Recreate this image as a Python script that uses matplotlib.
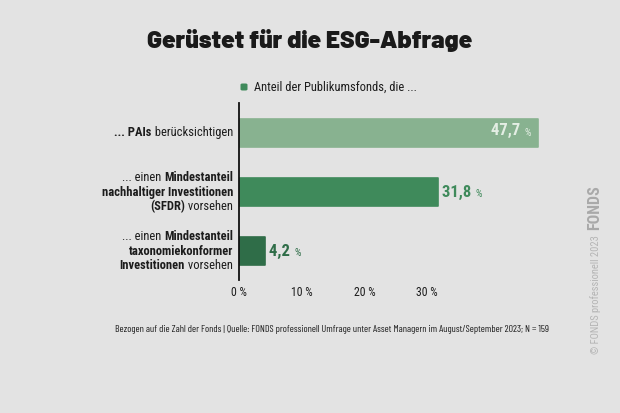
import matplotlib
matplotlib.use("Agg")
import matplotlib.pyplot as plt
from matplotlib import font_manager as fm

# ---------------- data ----------------
categories = [
    [[("... PAIs", True), (" berücksichtigen", False)]],
    [[("... einen ", False), ("Mindestanteil", True)],
     [("nachhaltiger Investitionen", True)],
     [("(SFDR)", True), (" vorsehen", False)]],
    [[("... einen ", False), ("Mindestanteil", True)],
     [("taxonomiekonformer", True)],
     [("Investitionen", True), (" vorsehen", False)]],
]
values = [47.7, 31.8, 4.2]
value_labels = ["47,7", "31,8", "4,2"]
xticks = [0, 10, 20, 30]
xtick_labels = ["0 %", "10 %", "20 %", "30 %"]
title = "Gerüstet für die ESG-Abfrage"
legend_label = "Anteil der Publikumsfonds, die ..."
footer = ("Bezogen auf die Zahl der Fonds | Quelle: FONDS professionell Umfrage unter "
          "Asset Managern im August/September 2023; N = 159")

# ---------------- style ----------------
BG = "#e3e3e3"
bar_colors = ["#88b290", "#3f8a5b", "#2f6d48"]
label_colors = ["#e4eee4", "#3f8a5b", "#2f6d48"]
TXT = "#1c1c1c"

installed = set(f.name for f in fm.fontManager.ttflist)
def pick(cands):
    for c in cands:
        if c in installed:
            return c
    return "DejaVu Sans"

COND = pick(["Roboto Condensed", "Barlow Semi Condensed", "Barlow Condensed",
             "Asap Condensed", "Archivo Narrow", "Liberation Sans Narrow"])
NARROW = pick(["Barlow Condensed", "Roboto Condensed", "Asap Condensed",
               "Liberation Sans Narrow"])
TITLEF = pick(["Barlow", "Roboto", "Lato", "DejaVu Sans"])

W, H = 620, 413
fig = plt.figure(figsize=(W / 100, H / 100), dpi=100, facecolor=BG)

def fx(px):
    return px / W
def fy(py):
    return 1 - py / H

# axes geometry (pixels)
x0, xr = 239, 552.5
ytop, ybot = 103, 280
ax = fig.add_axes([fx(x0), fy(ybot), fx(xr) - fx(x0), fy(ytop) - fy(ybot)])
ax.set_facecolor(BG)
ax.set_xlim(0, 50)
ax.set_ylim(2.49, -0.508)

ypos = list(range(len(values)))
ax.barh(ypos, values, height=0.475, color=bar_colors, edgecolor=bar_colors,
        linewidth=1.2, joinstyle="round")

for s in ["top", "right", "bottom"]:
    ax.spines[s].set_visible(False)
ax.spines["left"].set_color("#111111")
ax.spines["left"].set_linewidth(1.3)
ax.set_yticks([])
ax.set_xticks(xticks)
ax.set_xticklabels(xtick_labels, fontfamily=COND, fontsize=8.5, color=TXT)
ax.tick_params(axis="x", length=0, pad=4)

# value labels
for i, (v, lab) in enumerate(zip(values, value_labels)):
    if i == 0:
        pct = ax.annotate("%", xy=(v, i), xytext=(-7, 0), textcoords="offset pixels",
                          ha="right", va="center", fontfamily=COND, fontsize=7.5,
                          color=label_colors[i])
        ax.annotate(lab + " ", xy=(0, 0.04), xycoords=pct, ha="right", va="bottom",
                    fontfamily=COND, fontsize=12, fontweight="bold",
                    color=label_colors[i])
    else:
        t = ax.annotate(lab + " ", xy=(v, i), xytext=(4, 0), textcoords="offset pixels",
                        ha="left", va="center", fontfamily=COND, fontsize=12,
                        fontweight="bold", color=label_colors[i])
        ax.annotate("%", xy=(1, 0.04), xycoords=t, ha="left", va="bottom",
                    fontfamily=COND, fontsize=7.5, color=label_colors[i])

# category labels (mixed weights, right-aligned)
LINE = 14.5
xlab = 233
for i, lines in enumerate(categories):
    n = len(lines)
    for j, segs in enumerate(lines):
        offs = (j - (n - 1) / 2) * LINE
        last = None
        for k, (s, bold) in enumerate(reversed(segs)):
            kw = dict(fontfamily=COND, fontsize=9, color=TXT,
                      fontweight="bold" if bold else "normal")
            if last is None:
                last = ax.annotate(s, xy=(0, i), xytext=(xlab - x0, -offs),
                                   textcoords="offset pixels", ha="right",
                                   va="center", **kw)
            else:
                last = ax.annotate(s, xy=(0, 0), xycoords=last, ha="right",
                                   va="bottom", **kw)

# title
fig.text(fx(310), fy(41), title, ha="center", va="center", fontfamily=TITLEF,
         fontsize=17.7, fontweight="black", color="#1a1a1a")

# legend
fig.patches.append(matplotlib.patches.FancyBboxPatch(
    (fx(240.5), fy(90.5)), fx(7), 7 / H, boxstyle="round,pad=0,rounding_size=0.003",
    transform=fig.transFigure, facecolor=bar_colors[1], edgecolor="none"))
fig.text(fx(254), fy(87), legend_label, ha="left", va="center", fontfamily=COND,
         fontsize=9, color=TXT)

# footer
fig.text(fx(332), fy(330), footer, ha="center", va="center", fontfamily=NARROW,
         fontsize=7.2, color=TXT)

# watermark
fig.text(fx(596), fy(295), "© FONDS professionell 2023", rotation=90, ha="center",
         va="center", fontfamily=COND, fontsize=7.6, color="#b5b5b5")
fig.text(fx(595), fy(207.5), "FONDS", rotation=90, ha="center", va="center",
         fontfamily=COND, fontsize=11.5, fontweight="bold", color="#a9a9a9")

fig.savefig("out.png", dpi=100, facecolor=BG)
